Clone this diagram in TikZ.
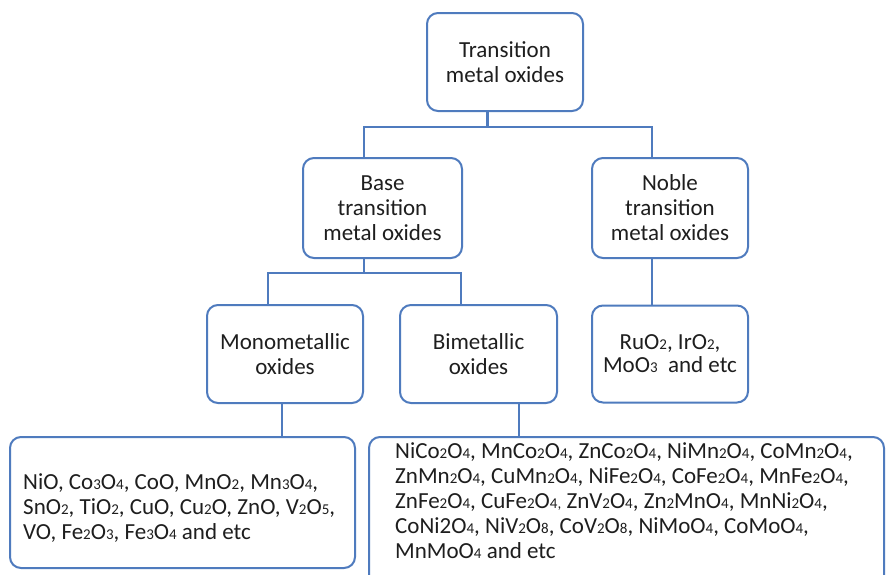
\documentclass[tikz,border=0pt]{standalone}
\usepackage{fontspec}
\setmainfont{Carlito}
\definecolor{boxblue}{HTML}{4F7BBE}
\definecolor{txt}{HTML}{1E1E1E}
\newcommand{\dg}[1]{{\fontsize{15}{15}\selectfont #1}}
\begin{document}
\begin{tikzpicture}[x=1pt,y=-1pt,
  box/.style={draw=boxblue, line width=2pt, rounded corners=11pt, fill=white,
    text=txt, align=center, inner sep=0pt,
    font=\fontsize{23}{25}\selectfont},
  listbox/.style={box, align=left},
  link/.style={draw=boxblue, line width=2.2pt}]
\useasboundingbox (0,0) rectangle (889,574);
\clip (0,0) rectangle (889,574);
\fill[white] (0,0) rectangle (889,574);

\node[box, minimum width=156pt, minimum height=98pt] (top) at (505,62) {Transition\\metal oxides};
\node[box, minimum width=159pt, minimum height=100pt] (base) at (382.5,208) {Base\\transition\\metal oxides};
\node[box, minimum width=156pt, minimum height=100pt] (noble) at (670,208) {Noble\\transition\\metal oxides};
\node[box, minimum width=156pt, minimum height=98pt] (mono) at (285,354) {Monometallic\\oxides};
\node[box, minimum width=157pt, minimum height=98pt] (bi) at (478.5,354) {Bimetallic\\oxides};
\node[box, minimum width=156pt, minimum height=97pt, font=\fontsize{23}{23}\selectfont] (ru) at (670,354) {RuO\dg{2}, IrO\dg{2},\\MoO\dg{3}\ \ and etc};

\node[listbox, minimum width=345pt, minimum height=131pt] (monolist) at (182.5,502.5) {};
\node[anchor=west, align=left, text=txt, inner sep=0pt, font=\fontsize{23}{25}\selectfont] (monotext) at (23,508)
 {NiO, Co\dg{3}O\dg{4}, CoO, MnO\dg{2}, Mn\dg{3}O\dg{4},\\
  SnO\dg{2}, TiO\dg{2}, CuO, Cu\dg{2}O, ZnO, V\dg{2}O\dg{5},\\
  VO, Fe\dg{2}O\dg{3}, Fe\dg{3}O\dg{4} and etc};
\node[listbox, minimum width=515pt, minimum height=160pt, anchor=north west] (bilist) at (368,436) {};
\node[anchor=north west, align=left, text=txt, inner sep=0pt, font=\fontsize{23}{25}\selectfont] (bitext) at (395,442)
 {NiCo\dg{2}O\dg{4}, MnCo\dg{2}O\dg{4}, ZnCo\dg{2}O\dg{4}, NiMn\dg{2}O\dg{4}, CoMn\dg{2}O\dg{4},\\
  ZnMn\dg{2}O\dg{4}, CuMn\dg{2}O\dg{4}, NiFe\dg{2}O\dg{4}, CoFe\dg{2}O\dg{4}, MnFe\dg{2}O\dg{4},\\
  ZnFe\dg{2}O\dg{4}, CuFe\dg{2}O\dg{4}\dg{,} ZnV\dg{2}O\dg{4}, Zn\dg{2}MnO\dg{4}, MnNi\dg{2}O\dg{4},\\
  CoNi2O\dg{4}, NiV\dg{2}O\dg{8}, CoV\dg{2}O\dg{8}, NiMoO\dg{4}, CoMoO\dg{4},\\
  MnMoO\dg{4} and etc};

% junction coordinates
\coordinate (j1) at (487.5,127);
\coordinate (j2) at (364,273);

\draw[link] (j1 |- top.south) -- (j1);
\draw[link] (base.north -| 364,0) |- (j1 -| 652,0) -- (noble.north -| 652,0);
\draw[link] (j2 |- base.south) -- (j2);
\draw[link] (mono.north -| 268,0) |- (j2 -| 461,0) -- (bi.north -| 461,0);
\draw[link] (noble.south -| 652,0) -- (ru.north -| 652,0);
\draw[link] (mono.south -| 282,0) -- (monolist.north -| 282,0);
\draw[link] (bi.south -| 519,0) -- (bilist.north -| 519,0);
\end{tikzpicture}
\end{document}
